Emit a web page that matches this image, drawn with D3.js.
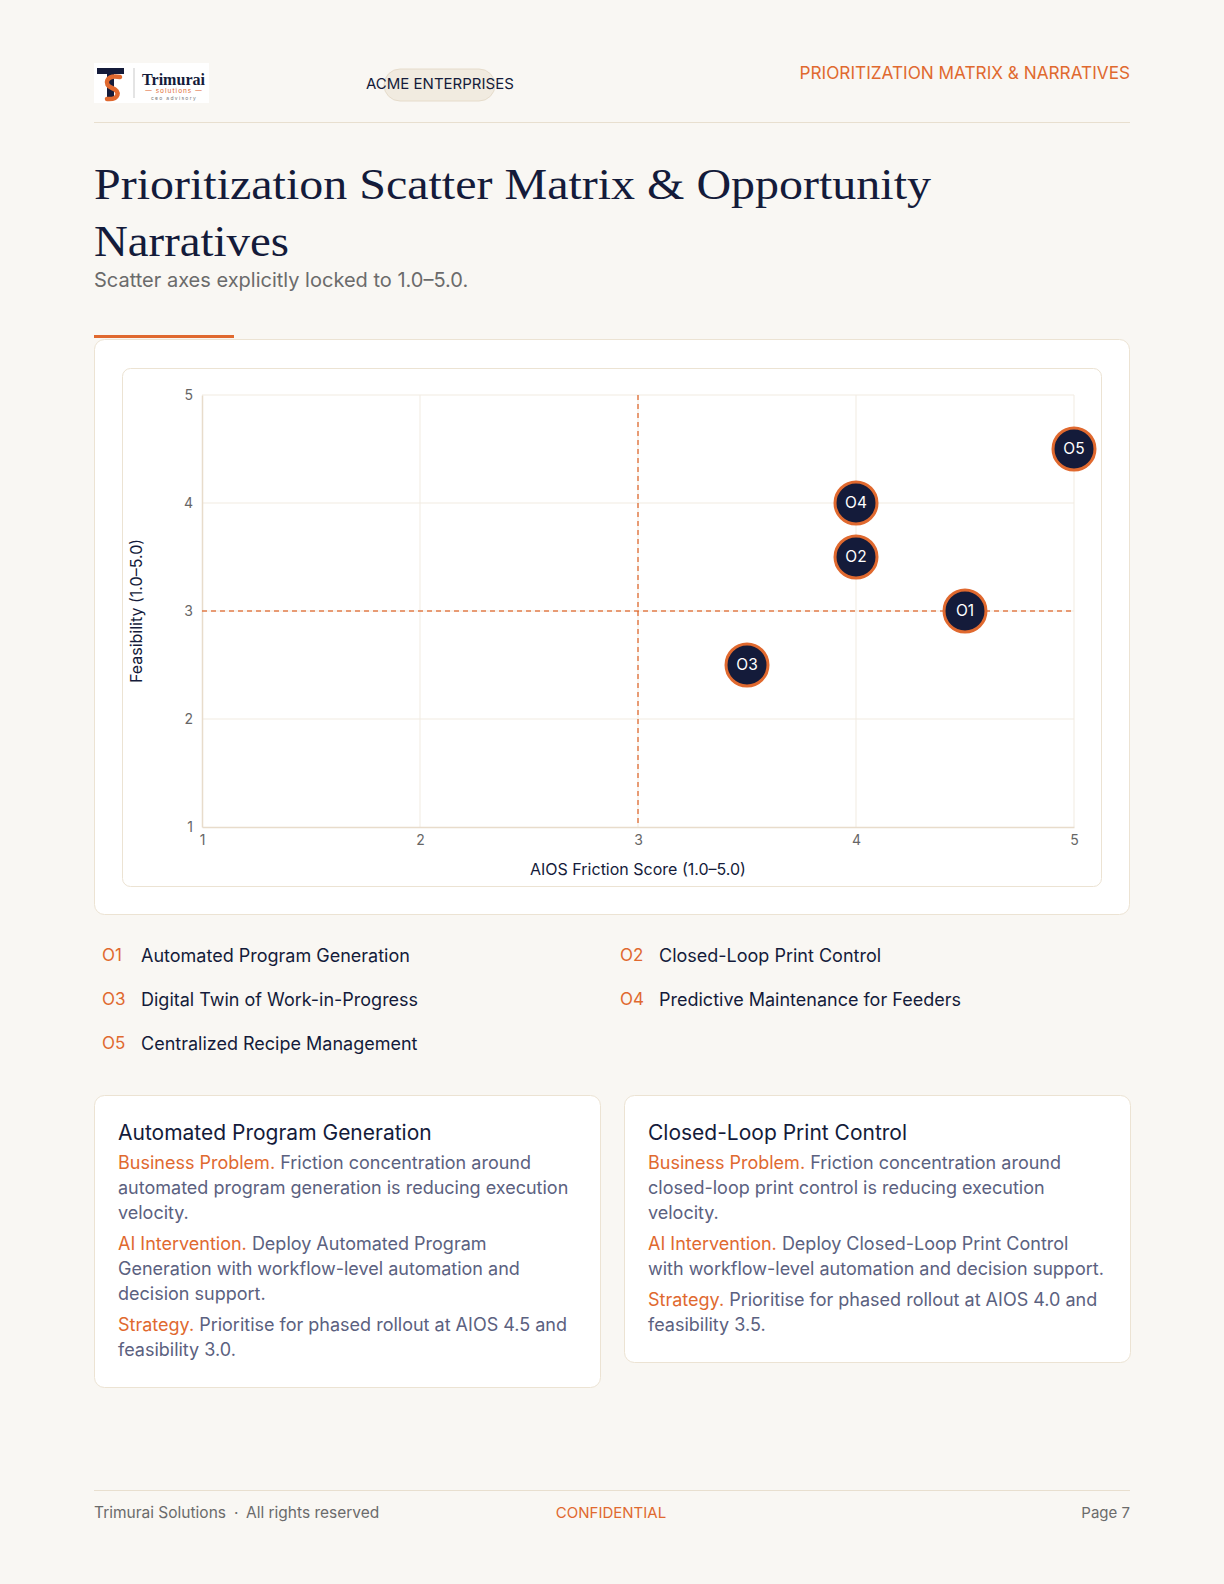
<!DOCTYPE html>
<html lang="en">
<head>
<meta charset="utf-8">
<title>Prioritization Scatter Matrix</title>
<script src="https://cdn.jsdelivr.net/npm/d3@7"></script>
<style>
  html, body { margin: 0; padding: 0; background: #f9f7f3; }
  svg { display: block; font-family: Inter, "Noto Sans", sans-serif; }
</style>
</head>
<body>
<svg id="page" width="1224" height="1584"></svg>
<script>
// ---- data ----
var ids = ["O1", "O2", "O3", "O4", "O5"];
var names = ["Automated Program Generation", "Closed-Loop Print Control", "Digital Twin of Work-in-Progress",
             "Predictive Maintenance for Feeders", "Centralized Recipe Management"];
var aiosScore = [4.5, 4.0, 3.5, 4.0, 5.0];
var feasibility = [3.0, 3.5, 2.5, 4.0, 4.5];
var tickValues = [1, 2, 3, 4, 5];
var threshold = { x: 3, y: 3 };

var cardTitles = ["Automated Program Generation", "Closed-Loop Print Control"];
var cardParas = [
  [
    { label: "Business Problem.", lines: [" Friction concentration around", "automated program generation is reducing execution", "velocity."] },
    { label: "AI Intervention.", lines: [" Deploy Automated Program", "Generation with workflow-level automation and", "decision support."] },
    { label: "Strategy.", lines: [" Prioritise for phased rollout at AIOS 4.5 and", "feasibility 3.0."] }
  ],
  [
    { label: "Business Problem.", lines: [" Friction concentration around", "closed-loop print control is reducing execution", "velocity."] },
    { label: "AI Intervention.", lines: [" Deploy Closed-Loop Print Control", "with workflow-level automation and decision support."] },
    { label: "Strategy.", lines: [" Prioritise for phased rollout at AIOS 4.0 and", "feasibility 3.5."] }
  ]
];

var navy = "#141b3a", orange = "#e0692f", beige = "#ece3d3", grid = "#f1ebe1";
var svg = d3.select("#page");

// ---- header ----
var logo = svg.append("g").attr("transform", "translate(94,63)");
logo.append("rect").attr("width", 115).attr("height", 40).attr("fill", "#ffffff");
logo.append("path").attr("d", "M3,5 H30 V11 H20 V37 H13 V11 H3 Z").attr("fill", navy);
logo.append("path").attr("d", "M26,14 C12,11 9,22 18,25 C27,28 25,37 13,36")
  .attr("fill", "none").attr("stroke", orange).attr("stroke-width", 4.5).attr("stroke-linecap", "round");
logo.append("line").attr("x1", 40).attr("x2", 40).attr("y1", 5).attr("y2", 35).attr("stroke", "#c9c9c9");
logo.append("text").attr("x", 48).attr("y", 22).attr("font-family", "Liberation Serif, serif")
  .attr("font-size", 17).attr("font-weight", "bold").attr("fill", navy).attr("textLength", 63)
  .attr("lengthAdjust", "spacingAndGlyphs").text("Trimurai");
logo.append("text").attr("x", 80).attr("y", 30).attr("text-anchor", "middle")
  .attr("font-size", 6.5).attr("fill", orange).attr("letter-spacing", 1).text("— solutions —");
logo.append("text").attr("x", 80).attr("y", 37).attr("text-anchor", "middle")
  .attr("font-size", 5).attr("fill", "#777").attr("letter-spacing", 1.3).text("ceo advisory");

svg.append("rect").attr("x", 384).attr("y", 69).attr("width", 111).attr("height", 32).attr("rx", 16)
  .attr("fill", "#f1ebe0").attr("stroke", "#e6dccb");
svg.append("text").attr("x", 366).attr("y", 84).attr("dy", "0.35em").attr("font-size", 15)
  .attr("fill", navy).text("ACME ENTERPRISES");
svg.append("text").attr("x", 1130).attr("y", 73).attr("dy", "0.35em").attr("text-anchor", "end")
  .attr("font-size", 17.2).attr("fill", orange).text("PRIORITIZATION MATRIX & NARRATIVES");
svg.append("line").attr("x1", 94).attr("x2", 1130).attr("y1", 122.5).attr("y2", 122.5)
  .attr("stroke", "#e8dfcf");

// ---- title ----
svg.append("text").attr("x", 94).attr("y", 199).attr("font-family", "Liberation Serif, serif")
  .attr("font-size", 44).attr("fill", navy).attr("textLength", 837).attr("lengthAdjust", "spacingAndGlyphs")
  .text("Prioritization Scatter Matrix & Opportunity");
svg.append("text").attr("x", 94).attr("y", 256).attr("font-family", "Liberation Serif, serif")
  .attr("font-size", 44).attr("fill", navy).attr("textLength", 195).attr("lengthAdjust", "spacingAndGlyphs")
  .text("Narratives");
svg.append("text").attr("x", 94).attr("y", 280).attr("dy", "0.35em").attr("font-size", 20)
  .attr("fill", "#6b6b6b").text("Scatter axes explicitly locked to 1.0–5.0.");

// ---- chart card ----
svg.append("rect").attr("x", 94.5).attr("y", 339.5).attr("width", 1035).attr("height", 575).attr("rx", 10)
  .attr("fill", "#ffffff").attr("stroke", beige);
svg.append("rect").attr("x", 94).attr("y", 335).attr("width", 140).attr("height", 3).attr("fill", orange);
svg.append("rect").attr("x", 122.5).attr("y", 368.5).attr("width", 979).attr("height", 518).attr("rx", 8)
  .attr("fill", "#ffffff").attr("stroke", beige);

var x = d3.scaleLinear().domain([1, 5]).range([202, 1074]);
var y = d3.scaleLinear().domain([1, 5]).range([827, 395]);

var plot = svg.append("g");
// grid
plot.selectAll(".vgrid").data(tickValues.slice(1)).enter().append("line")
  .attr("x1", function(d) { return x(d); }).attr("x2", function(d) { return x(d); })
  .attr("y1", y(5)).attr("y2", y(1)).attr("stroke", grid);
plot.selectAll(".hgrid").data(tickValues.slice(1)).enter().append("line")
  .attr("y1", function(d) { return y(d); }).attr("y2", function(d) { return y(d); })
  .attr("x1", x(1)).attr("x2", x(5)).attr("stroke", grid);

// axes
var xAxis = plot.append("g").attr("transform", "translate(0," + y(1) + ")")
  .call(d3.axisBottom(x).tickValues(tickValues).tickSize(0).tickPadding(8).tickFormat(d3.format("d")));
var yAxis = plot.append("g").attr("transform", "translate(" + x(1) + ",0)")
  .call(d3.axisLeft(y).tickValues(tickValues).tickSize(0).tickPadding(9).tickFormat(d3.format("d")));
[xAxis, yAxis].forEach(function(a) {
  a.select(".domain").attr("stroke", "#e8dccb").attr("stroke-width", 1.5);
  a.selectAll("text").attr("font-family", "Inter, sans-serif").attr("font-size", 14).attr("fill", "#666");
});

// threshold lines
plot.append("line").attr("x1", x(threshold.x)).attr("x2", x(threshold.x)).attr("y1", y(5)).attr("y2", y(1))
  .attr("stroke", orange).attr("stroke-width", 1.5).attr("stroke-dasharray", "5,4").attr("opacity", 0.85);
plot.append("line").attr("y1", y(threshold.y)).attr("y2", y(threshold.y)).attr("x1", x(1)).attr("x2", x(5))
  .attr("stroke", orange).attr("stroke-width", 1.5).attr("stroke-dasharray", "5,4").attr("opacity", 0.85);

// axis titles
svg.append("text").attr("x", x(3)).attr("y", 869).attr("dy", "0.35em").attr("text-anchor", "middle")
  .attr("font-size", 16).attr("fill", navy).text("AIOS Friction Score (1.0–5.0)");
svg.append("text").attr("transform", "translate(136," + y(3) + ") rotate(-90)").attr("dy", "0.35em")
  .attr("text-anchor", "middle").attr("font-size", 16).attr("fill", navy).text("Feasibility (1.0–5.0)");

// points
var pts = ids.map(function(id, i) { return { id: id, x: aiosScore[i], y: feasibility[i] }; });
var pg = plot.selectAll(".pt").data(pts).enter().append("g")
  .attr("transform", function(d) { return "translate(" + x(d.x) + "," + y(d.y) + ")"; });
pg.append("circle").attr("r", 21).attr("fill", navy).attr("stroke", orange).attr("stroke-width", 3);
pg.append("text").attr("text-anchor", "middle").attr("dy", "0.35em").attr("font-size", 15.5)
  .attr("fill", "#ffffff").text(function(d) { return d.id; });

// ---- legend ----
var legend = svg.append("g");
legend.selectAll("g").data(ids).enter().append("g")
  .each(function(d, i) {
    var g = d3.select(this);
    var cx = (i % 2 === 0) ? 102 : 620;
    var cy = 956 + Math.floor(i / 2) * 44;
    g.append("text").attr("x", cx).attr("y", cy - 1).attr("dy", "0.35em").attr("font-size", 17)
      .attr("fill", orange).text(d);
    g.append("text").attr("x", cx + 39).attr("y", cy).attr("dy", "0.35em").attr("font-size", 18)
      .attr("fill", navy).text(names[i]);
  });

// ---- narrative cards ----
var cardX = [94, 624];
cardTitles.forEach(function(title, c) {
  var g = svg.append("g").attr("transform", "translate(" + cardX[c] + ",1095)");
  var lineY = 67, rows = [];
  cardParas[c].forEach(function(p) {
    p.lines.forEach(function(l, k) { rows.push({ y: lineY, label: k === 0 ? p.label : null, text: l }); lineY += 25; });
    lineY += 6;
  });
  var h = lineY + 7;
  g.append("rect").attr("x", 0.5).attr("y", 0.5).attr("width", 506).attr("height", h).attr("rx", 10)
    .attr("fill", "#ffffff").attr("stroke", beige);
  g.append("text").attr("x", 24).attr("y", 38).attr("dy", "0.35em").attr("font-size", 21)
    .attr("fill", navy).text(title);
  rows.forEach(function(r) {
    var t = g.append("text").attr("x", 24).attr("y", r.y + 1).attr("dy", "0.35em").attr("font-size", 18)
      .attr("fill", "#5b6180");
    if (r.label) t.append("tspan").attr("fill", orange).text(r.label);
    t.append("tspan").text(r.text);
  });
});

// ---- footer ----
svg.append("line").attr("x1", 94).attr("x2", 1130).attr("y1", 1490.5).attr("y2", 1490.5).attr("stroke", "#e8dfcf");
var foot = svg.append("text").attr("x", 94).attr("y", 1513).attr("dy", "0.35em").attr("font-size", 15.5)
  .attr("fill", "#6b6b6b");
foot.append("tspan").text("Trimurai Solutions");
foot.append("tspan").attr("dx", 8).text("·");
foot.append("tspan").attr("dx", 8).text("All rights reserved");
svg.append("text").attr("x", 611).attr("y", 1513).attr("dy", "0.35em").attr("text-anchor", "middle")
  .attr("font-size", 15).attr("fill", orange).text("CONFIDENTIAL");
svg.append("text").attr("x", 1130).attr("y", 1513).attr("dy", "0.35em").attr("text-anchor", "end")
  .attr("font-size", 15).attr("fill", "#6b6b6b").text("Page 7");
</script>
</body>
</html>
